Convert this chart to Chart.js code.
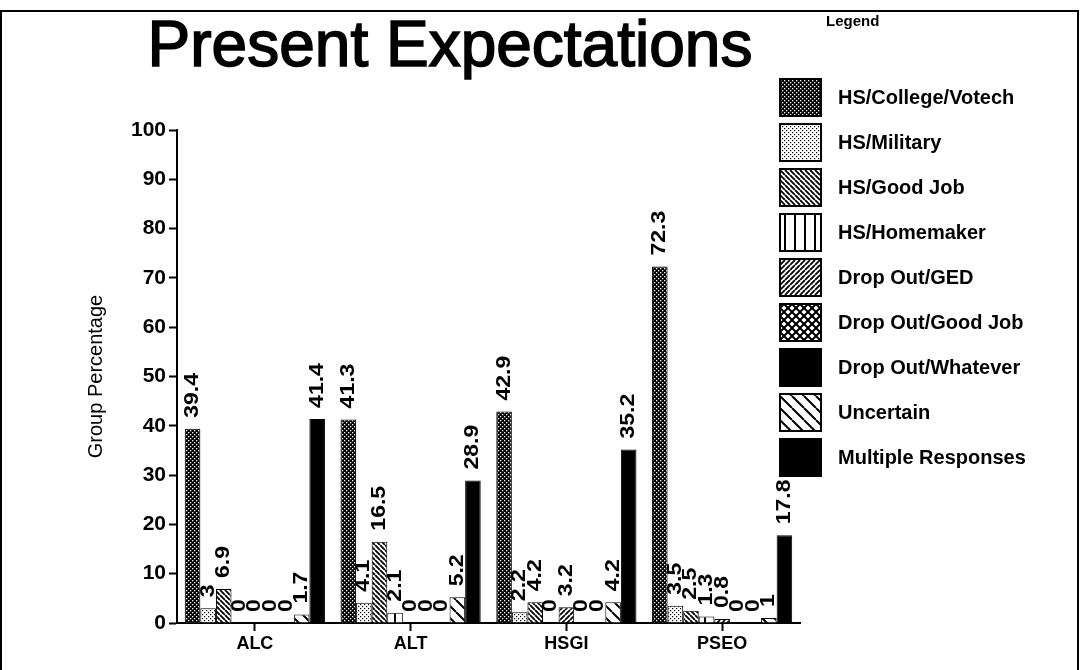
<!DOCTYPE html>
<html>
<head>
<meta charset="utf-8">
<title>Present Expectations</title>
<script src="https://cdn.jsdelivr.net/npm/chart.js@4"></script>
<style>
  body { margin: 0; background: #fff; }
  #wrap { position: relative; width: 1084px; height: 670px; }
</style>
</head>
<body>
<div id="wrap"><canvas id="chart"></canvas></div>
<script>
// categories and series (percent of each group)
const groups = ['ALC', 'ALT', 'HSGI', 'PSEO'];
const seriesNames = [
  'HS/College/Votech', 'HS/Military', 'HS/Good Job', 'HS/Homemaker',
  'Drop Out/GED', 'Drop Out/Good Job', 'Drop Out/Whatever', 'Uncertain',
  'Multiple Responses'
];
const collegeVotech = [39.4, 41.3, 42.9, 72.3];
const military      = [3, 4.1, 2.2, 3.5];
const goodJob       = [6.9, 16.5, 4.2, 2.5];
const homemaker     = [0, 2.1, 0, 1.3];
const dropGed       = [0, 0, 3.2, 0.8];
const dropGoodJob   = [0, 0, 0, 0];
const dropWhatever  = [0, 0, 0, 0];
const uncertain     = [1.7, 5.2, 4.2, 1];
const multiple      = [41.4, 28.9, 35.2, 17.8];
const yTicks = [0, 10, 20, 30, 40, 50, 60, 70, 80, 90, 100];

const allSeries = [collegeVotech, military, goodJob, homemaker, dropGed,
  dropGoodJob, dropWhatever, uncertain, multiple];

const FONT = '"Liberation Sans", Arial, sans-serif';

// hatch / dot fills like the old print
function makePattern(size, bg, draw) {
  const c = document.createElement('canvas');
  c.width = size; c.height = size;
  const g = c.getContext('2d');
  g.fillStyle = bg;
  g.fillRect(0, 0, size, size);
  g.fillStyle = '#000';
  g.strokeStyle = '#000';
  draw(g, size);
  return g.createPattern(c, 'repeat');
}
function back(g, s, w) { // "\" lines
  g.lineWidth = w;
  g.beginPath();
  for (let k = -1; k <= 1; k++) { g.moveTo(k * s, 0); g.lineTo(k * s + s, s); }
  g.stroke();
}
function fwd(g, s, w) { // "/" lines
  g.lineWidth = w;
  g.beginPath();
  for (let k = -1; k <= 1; k++) { g.moveTo(k * s, s); g.lineTo(k * s + s, 0); }
  g.stroke();
}

const fills = [
  makePattern(4, '#000', (g) => { g.fillStyle = '#fff'; g.fillRect(0, 0, 1.3, 1.3); g.fillRect(2, 2, 1.3, 1.3); }),
  makePattern(4, '#fff', (g) => { g.fillRect(0, 0, 1.2, 1.2); g.fillRect(2, 2, 1.2, 1.2); }),
  makePattern(5, '#fff', (g, s) => back(g, s, 1.8)),
  makePattern(10, '#fff', (g) => { g.fillRect(4, 0, 2, 10); }),
  makePattern(5, '#fff', (g, s) => fwd(g, s, 1.8)),
  makePattern(8, '#fff', (g, s) => { back(g, s, 2); fwd(g, s, 2); }),
  '#000',
  makePattern(12, '#fff', (g, s) => back(g, s, 2)),
  '#000'
];

const datasets = seriesNames.map((name, i) => ({
  label: name,
  data: allSeries[i],
  backgroundColor: fills[i],
  borderColor: '#000',
  borderWidth: 1,
  barPercentage: 1,
  categoryPercentage: 0.9
}));

// value labels written upward above each bar
const barLabels = {
  id: 'barLabels',
  afterDatasetsDraw(chart) {
    const ctx = chart.ctx;
    ctx.save();
    ctx.fillStyle = '#000';
    ctx.font = 'bold 20px ' + FONT;
    ctx.textAlign = 'left';
    ctx.textBaseline = 'middle';
    chart.data.datasets.forEach((ds, i) => {
      chart.getDatasetMeta(i).data.forEach((bar, j) => {
        ctx.save();
        ctx.translate(bar.x, bar.y - 11);
        ctx.rotate(-Math.PI / 2);
        ctx.scale(1.15, 1);
        ctx.fillText(String(ds.data[j]), 0, 0);
        ctx.restore();
      });
    });
    ctx.restore();
  }
};

// big title, boxed legend and the frame
const extras = {
  id: 'extras',
  afterDraw(chart) {
    const ctx = chart.ctx;
    ctx.save();
    ctx.strokeStyle = '#000';
    ctx.lineWidth = 2;
    ctx.beginPath();
    ctx.moveTo(0, 11); ctx.lineTo(1079, 11);
    ctx.moveTo(1, 11); ctx.lineTo(1, 670);
    ctx.moveTo(1078, 11); ctx.lineTo(1078, 670);
    ctx.stroke();

    ctx.fillStyle = '#000';
    ctx.font = '64px ' + FONT;
    ctx.textAlign = 'center';
    ctx.textBaseline = 'alphabetic';
    ctx.lineWidth = 1.6;
    ctx.fillText('Present Expectations', 450, 66);
    ctx.strokeText('Present Expectations', 450, 66);

    ctx.font = 'bold 15px ' + FONT;
    ctx.textAlign = 'left';
    ctx.fillText('Legend', 826, 26);

    ctx.font = 'bold 20px ' + FONT;
    ctx.textBaseline = 'middle';
    chart.data.datasets.forEach((ds, i) => {
      const y = 79 + i * 45;
      ctx.fillStyle = ds.backgroundColor;
      ctx.fillRect(780, y, 41, 37);
      ctx.lineWidth = 2;
      ctx.strokeRect(780, y, 41, 37);
      ctx.fillStyle = '#000';
      ctx.fillText(ds.label, 838, y + 19);
    });
    ctx.restore();
  }
};

new Chart(document.getElementById('chart'), {
  type: 'bar',
  data: { labels: groups, datasets: datasets },
  options: {
    responsive: true,
    maintainAspectRatio: false,
    animation: false,
    layout: { padding: { top: 130, left: 84, right: 284, bottom: 0 } },
    plugins: {
      legend: { display: false },
      tooltip: { enabled: false }
    },
    scales: {
      x: {
        grid: { display: true, drawOnChartArea: false, offset: false, tickLength: 8, tickColor: '#000', tickWidth: 2 },
        border: { color: '#000', width: 2 },
        ticks: { color: '#000', padding: 2, font: { family: FONT, size: 18, weight: 'bold' } },
        afterFit(scale) { scale.height = 47; }
      },
      y: {
        min: 0,
        max: 100,
        afterBuildTicks(scale) { scale.ticks = yTicks.map(v => ({ value: v })); },
        grid: { drawOnChartArea: false, tickLength: 8, tickColor: '#000', tickWidth: 2 },
        border: { color: '#000', width: 2 },
        ticks: { color: '#000', padding: 3, font: { family: FONT, size: 21, weight: 'bold' } },
        title: {
          display: true,
          text: 'Group Percentage',
          color: '#000',
          padding: 0,
          font: { family: FONT, size: 20 }
        },
        afterFit(scale) { scale.width = 93; }
      }
    }
  },
  plugins: [barLabels, extras]
});
</script>
</body>
</html>
